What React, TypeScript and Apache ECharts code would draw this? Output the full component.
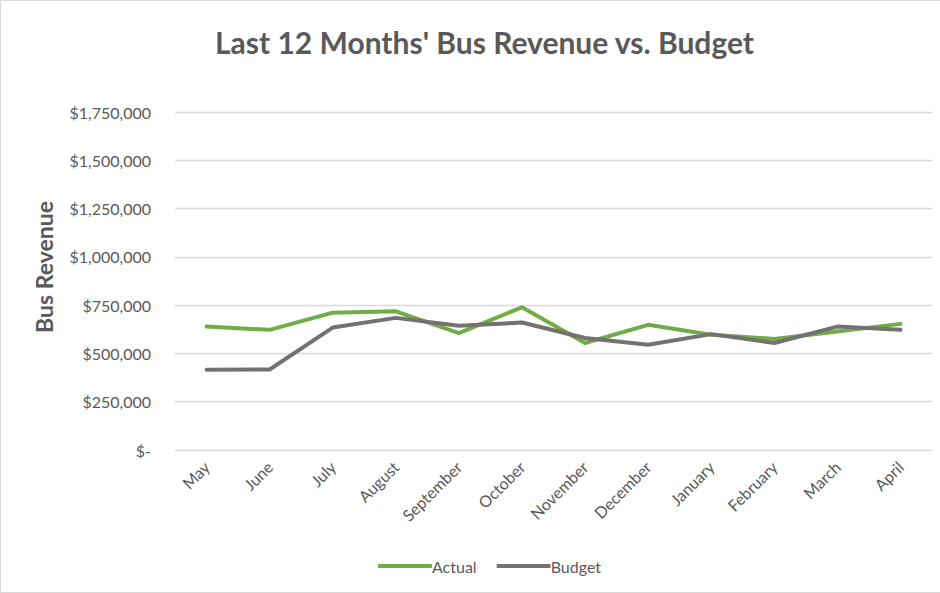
import React, { useEffect, useRef } from "react";
import * as echarts from "echarts";

const months = ["May", "June", "July", "August", "September", "October", "November", "December", "January", "February", "March", "April"];
const actual = [639000, 622000, 711000, 718000, 605000, 739000, 554000, 648000, 597000, 575000, 614000, 653000];
const budget = [415000, 417000, 634000, 684000, 643000, 660000, 580000, 545000, 600000, 554000, 639000, 622000];

const FONT = "Lato, 'Open Sans', sans-serif";

function fmt(v: number): string {
  if (v === 0) return "$-";
  return "$" + v.toLocaleString("en-US");
}

export default function App() {
  const ref = useRef<HTMLDivElement>(null);
  useEffect(() => {
    document.body.style.margin = "0";
    const chart = echarts.init(ref.current!, undefined, { renderer: "svg" });
    chart.setOption({
      animation: false,
      backgroundColor: "#ffffff",
      title: {
        text: "Last 12 Months' Bus Revenue vs. Budget",
        left: 209,
        top: 21,
        textStyle: { fontFamily: FONT, fontSize: 30, fontWeight: "bold", color: "#595959" },
      },
      grid: { left: 174, right: 8, top: 111, bottom: 142 },
      graphic: [
        {
          type: "text",
          x: 43,
          y: 266,
          rotation: Math.PI / 2,
          style: {
            text: "Bus Revenue",
            fontFamily: FONT,
            fontSize: 23,
            fontWeight: "bold",
            fill: "#595959",
            align: "center",
            verticalAlign: "middle",
          },
        },
      ],
      legend: {
        bottom: 13,
        left: 372,
        itemWidth: 54,
        itemHeight: 4,
        itemGap: 20,
        icon: "roundRect",
        textStyle: { fontFamily: FONT, fontSize: 16, color: "#595959", padding: [0, 0, 0, -5] },
        data: ["Actual", "Budget"],
      },
      xAxis: {
        type: "category",
        data: months,
        boundaryGap: true,
        axisLine: { show: false },
        axisTick: { show: false },
        axisLabel: { rotate: 45, fontFamily: FONT, fontSize: 16, color: "#595959", margin: 14 },
      },
      yAxis: {
        type: "value",
        min: 0,
        max: 1750000,
        interval: 250000,
        axisLine: { show: false },
        axisTick: { show: false },
        splitLine: { lineStyle: { color: "#d9d9d9", width: 1.3 } },
        axisLabel: { fontFamily: FONT, fontSize: 16, color: "#595959", margin: 24, formatter: fmt },
      },
      series: [
        {
          name: "Actual",
          type: "line",
          data: actual,
          symbol: "none",
          lineStyle: { color: "#70AD47", width: 4, cap: "round", join: "round" },
          itemStyle: { color: "#70AD47" },
        },
        {
          name: "Budget",
          type: "line",
          data: budget,
          symbol: "none",
          lineStyle: { color: "#767171", width: 4, cap: "round", join: "round" },
          itemStyle: { color: "#767171" },
        },
      ],
    });
    return () => chart.dispose();
  }, []);
  return (
    <div style={{ position: "absolute", left: 0, top: 0, width: 940, height: 593, boxSizing: "border-box", border: "1px solid #d9d9d9", borderRightWidth: 0 }}>
      <div ref={ref} style={{ width: 939, height: 591 }} />
    </div>
  );
}
